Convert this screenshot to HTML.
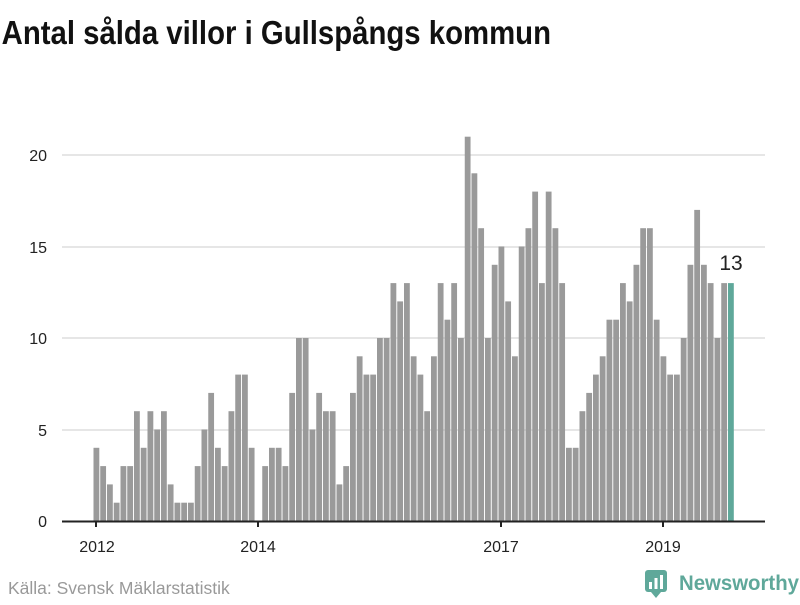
<!DOCTYPE html>
<html><head><meta charset="utf-8"><style>
body{margin:0;width:800px;height:600px;background:#fff;overflow:hidden;font-family:"Liberation Sans",sans-serif}
</style></head><body>
<svg width="800" height="600" xmlns="http://www.w3.org/2000/svg" id="s">
<text x="2" y="44" font-family="Liberation Sans, sans-serif" font-weight="bold" font-size="33" fill="#111" transform="scale(0.82,1)" textLength="670" lengthAdjust="spacingAndGlyphs">Antal sålda villor i Gullspångs kommun</text>
<g stroke="#ddd" stroke-width="1.5">
<line x1="62" x2="765" y1="155" y2="155"/><line x1="62" x2="765" y1="247" y2="247"/>
<line x1="62" x2="765" y1="338" y2="338"/><line x1="62" x2="765" y1="430" y2="430"/>
</g>
<g font-size="16" fill="#222" text-anchor="end">
<text x="47" y="161">20</text><text x="47" y="253">15</text><text x="47" y="344">10</text><text x="47" y="436">5</text><text x="47" y="527">0</text>
</g>
<g id="bars"></g>
<line x1="62" x2="765" y1="521.5" y2="521.5" stroke="#222" stroke-width="2"/>
<g stroke="#222" stroke-width="2">
<line x1="96" x2="96" y1="521" y2="527"/><line x1="258" x2="258" y1="521" y2="527"/>
<line x1="501" x2="501" y1="521" y2="527"/><line x1="663" x2="663" y1="521" y2="527"/>
</g>
<g font-size="16" fill="#222" text-anchor="middle">
<text x="97" y="552">2012</text><text x="258" y="552">2014</text><text x="501" y="552">2017</text><text x="663" y="552">2019</text>
</g>
<text x="731" y="270" font-size="21" fill="#222" text-anchor="middle">13</text>
<text x="8" y="594" font-size="17.5" fill="#999">Källa: Svensk Mäklarstatistik</text>
<g transform="translate(645,570)">
<rect x="0" y="0" width="22" height="22" rx="3" fill="#5fa89a"/>
<polygon points="6,22 16,22 11,28" fill="#5fa89a"/>
<rect x="4" y="12" width="3" height="7" fill="#fff"/><rect x="9.5" y="8" width="3" height="11" fill="#fff"/><rect x="15" y="5" width="3" height="14" fill="#fff"/>
</g>
<text x="679" y="590" font-size="21" font-weight="bold" fill="#5fa89a" textLength="120" lengthAdjust="spacingAndGlyphs">Newsworthy</text>
</svg>
<script>
var v=[4,3,2,1,3,3,6,4,6,5,6,2,1,1,1,3,5,7,4,3,6,8,8,4,0,3,4,4,3,7,10,10,5,7,6,6,2,3,7,9,8,8,10,10,13,12,13,9,8,6,9,13,11,13,10,21,19,16,10,14,15,12,9,15,16,18,13,18,16,13,4,4,6,7,8,9,11,11,13,12,14,16,16,11,9,8,8,10,14,17,14,13,10,13,13];
var g=document.getElementById('bars'),h='';
for(var i=0;i<v.length;i++){var x=93.5+i*6.75,hh=v[i]*18.3;
h+='<rect x="'+x.toFixed(2)+'" y="'+(521-hh).toFixed(2)+'" width="5.8" height="'+hh.toFixed(2)+'" fill="'+(i==v.length-1?'#5fa89a':'#9a9a9a')+'"/>';}
g.innerHTML=h;
</script>
</body></html>
